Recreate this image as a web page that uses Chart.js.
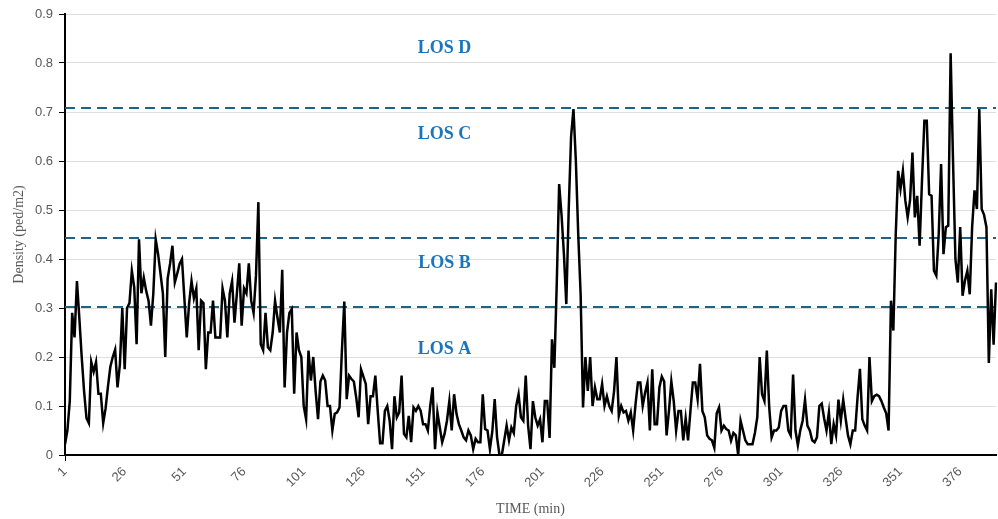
<!DOCTYPE html>
<html>
<head>
<meta charset="utf-8">
<script src="https://cdn.jsdelivr.net/npm/chart.js@4.4.0/dist/chart.umd.min.js"></script>
<style>
  html, body { margin: 0; padding: 0; background: #fff; }
  #wrap { width: 998px; height: 519px; position: relative; }
</style>
</head>
<body>
<div id="wrap"><canvas id="densityChart"></canvas></div>
<script>
// Density readings, one per minute (minute 1 .. 391)
const density = [
  0.022, 0.05, 0.11, 0.29, 0.24, 0.355, 0.28, 0.2, 0.13, 0.075,
  0.065, 0.19, 0.17, 0.19, 0.125, 0.125, 0.065, 0.095, 0.14, 0.18,
  0.2, 0.215, 0.138, 0.185, 0.3, 0.175, 0.3, 0.31, 0.376, 0.342,
  0.226, 0.44, 0.33, 0.362, 0.335, 0.315, 0.264, 0.33, 0.44, 0.41,
  0.37, 0.33, 0.2, 0.36, 0.39, 0.427, 0.352, 0.37, 0.39, 0.4,
  0.32, 0.24, 0.31, 0.355, 0.32, 0.34, 0.214, 0.315, 0.31, 0.175,
  0.25, 0.25, 0.315, 0.24, 0.24, 0.24, 0.34, 0.315, 0.24, 0.33,
  0.355, 0.27, 0.33, 0.391, 0.264, 0.34, 0.33, 0.391, 0.315, 0.29,
  0.366, 0.516, 0.226, 0.214, 0.29, 0.22, 0.214, 0.25, 0.315, 0.28,
  0.25, 0.378, 0.138, 0.25, 0.29, 0.298, 0.125, 0.25, 0.214, 0.2,
  0.1, 0.073, 0.213, 0.152, 0.2, 0.13, 0.073, 0.15, 0.162, 0.152,
  0.1, 0.1, 0.05, 0.084, 0.087, 0.097, 0.213, 0.313, 0.114, 0.162,
  0.155, 0.15, 0.117, 0.077, 0.175, 0.16, 0.145, 0.063, 0.12, 0.12,
  0.162, 0.09, 0.024, 0.024, 0.09, 0.1, 0.07, 0.012, 0.12, 0.077,
  0.087, 0.162, 0.043, 0.036, 0.08, 0.026, 0.097, 0.09, 0.1, 0.09,
  0.063, 0.063, 0.05, 0.1, 0.138, 0.012, 0.087, 0.056, 0.026, 0.043,
  0.07, 0.11, 0.05, 0.124, 0.084, 0.063, 0.05, 0.036, 0.03, 0.05,
  0.04, 0.012, 0.033, 0.026, 0.026, 0.124, 0.053, 0.05, 0.012, 0.048,
  0.114, 0.036, 0, 0, 0.03, 0.06, 0.03, 0.056, 0.045, 0.1,
  0.124, 0.077, 0.07, 0.162, 0.06, 0.012, 0.11, 0.077, 0.06, 0.073,
  0.026, 0.11, 0.11, 0.035, 0.236, 0.178, 0.35, 0.553, 0.49, 0.41,
  0.308, 0.5, 0.65, 0.706, 0.6, 0.45, 0.328, 0.097, 0.2, 0.131,
  0.2, 0.1, 0.138, 0.114, 0.114, 0.145, 0.1, 0.12, 0.1, 0.09,
  0.13, 0.2, 0.08, 0.1, 0.087, 0.09, 0.07, 0.087, 0.05, 0.104,
  0.148, 0.148, 0.1, 0.127, 0.148, 0.05, 0.175, 0.063, 0.063, 0.138,
  0.16, 0.15, 0.04, 0.09, 0.15, 0.11, 0.05, 0.09, 0.09, 0.03,
  0.075, 0.03, 0.09, 0.148, 0.148, 0.114, 0.186, 0.09, 0.077, 0.04,
  0.033, 0.03, 0.015, 0.085, 0.097, 0.05, 0.06, 0.053, 0.05, 0.029,
  0.045, 0.04, 0, 0.07, 0.05, 0.03, 0.022, 0.022, 0.022, 0.045,
  0.077, 0.2, 0.124, 0.11, 0.213, 0.097, 0.036, 0.05, 0.05, 0.056,
  0.09, 0.1, 0.1, 0.05, 0.04, 0.164, 0.05, 0.02, 0.05, 0.07,
  0.113, 0.06, 0.05, 0.03, 0.026, 0.036, 0.1, 0.105, 0.075, 0.05,
  0.087, 0.022, 0.063, 0.04, 0.113, 0.07, 0.113, 0.075, 0.04, 0.022,
  0.05, 0.05, 0.117, 0.176, 0.073, 0.06, 0.05, 0.2, 0.11, 0.12,
  0.123, 0.12, 0.11, 0.097, 0.085, 0.05, 0.315, 0.254, 0.45, 0.58,
  0.543, 0.58, 0.52, 0.485, 0.52, 0.617, 0.485, 0.529, 0.427, 0.56,
  0.682, 0.682, 0.532, 0.529, 0.376, 0.366, 0.45, 0.594, 0.41, 0.465,
  0.468, 0.82, 0.6, 0.4, 0.352, 0.465, 0.325, 0.356, 0.376, 0.328,
  0.465, 0.54, 0.502, 0.706, 0.502, 0.49, 0.465, 0.188, 0.338, 0.225,
  0.352
];

// Level of service thresholds and labels
const losLevels = [0.303, 0.443, 0.709];
const losNames = ['LOS A', 'LOS B', 'LOS C', 'LOS D'];
const losLabelValues = [0.215, 0.392, 0.654, 0.83];
const losLabelMinute = 160;

const tickEvery = 25;
const minutes = density.map((v, i) => String(i + 1));

// Dashed LOS thresholds and their names
const losPlugin = {
    id: 'losLines',
    beforeDatasetsDraw(chart) {
        const { ctx, chartArea, scales } = chart;
        ctx.save();
        ctx.strokeStyle = '#1f6285';
        ctx.lineWidth = 2;
        ctx.setLineDash([10, 6]);
        losLevels.forEach(level => {
            const y = Math.round(scales.y.getPixelForValue(level));
            ctx.beginPath();
            ctx.moveTo(chartArea.left, y);
            ctx.lineTo(chartArea.right, y);
            ctx.stroke();
        });
        ctx.setLineDash([]);
        ctx.fillStyle = '#1b75bc';
        ctx.font = 'bold 18px "Liberation Serif", "Times New Roman", serif';
        ctx.textAlign = 'center';
        ctx.textBaseline = 'middle';
        const x = scales.x.getPixelForValue(losLabelMinute - 1);
        losNames.forEach((name, i) => {
            ctx.fillText(name, x, scales.y.getPixelForValue(losLabelValues[i]));
        });
        ctx.restore();
    }
};

Chart.defaults.font.family = '"Liberation Sans", Arial, sans-serif';

const ctx = document.getElementById('densityChart');
new Chart(ctx, {
    type: 'line',
    data: {
        labels: minutes,
        datasets: [{
            label: 'Density',
            data: density,
            borderColor: '#000',
            borderWidth: 2.5,
            pointRadius: 0,
            tension: 0,
            fill: false
        }]
    },
    options: {
        responsive: true,
        maintainAspectRatio: false,
        animation: false,
        layout: { padding: { top: 14, right: 2, left: 0, bottom: 0 } },
        plugins: {
            legend: { display: false },
            tooltip: { enabled: false }
        },
        scales: {
            x: {
                offset: false,
                ticks: {
                    autoSkip: false,
                    maxRotation: 45,
                    minRotation: 45,
                    color: '#595959',
                    font: { size: 13 },
                    padding: 3,
                    callback: function(val, index) {
                        return index % tickEvery === 0 ? this.getLabelForValue(val) : null;
                    }
                },
                grid: {
                    color: c => c.index % tickEvery === 0 ? '#c8c8c8' : 'rgba(0,0,0,0)',
                    tickColor: c => c.index % tickEvery === 0 ? '#000' : 'rgba(0,0,0,0)',
                    tickLength: 6
                },
                border: { color: '#000', width: 2 },
                title: {
                    display: true,
                    text: 'TIME (min)',
                    color: '#595959',
                    font: { family: '"Liberation Serif", "Times New Roman", serif', size: 14 },
                    padding: { top: 0, bottom: 1 }
                },
                afterFit: function(scale) { scale.height = 64; }
            },
            y: {
                min: 0,
                max: 0.9,
                ticks: {
                    stepSize: 0.1,
                    color: '#595959',
                    font: { size: 13 },
                    padding: 6,
                    callback: v => v === 0 ? '0' : v.toFixed(1)
                },
                grid: { color: '#dedede', tickColor: '#000', tickLength: 6 },
                border: { color: '#000', width: 2 },
                title: {
                    display: true,
                    text: 'Density (ped/m2)',
                    color: '#595959',
                    font: { family: '"Liberation Serif", "Times New Roman", serif', size: 14 },
                    padding: { top: 11, bottom: 0 }
                },
                afterFit: function(scale) { scale.width = 65; }
            }
        }
    },
    plugins: [losPlugin]
});
</script>
</body>
</html>
